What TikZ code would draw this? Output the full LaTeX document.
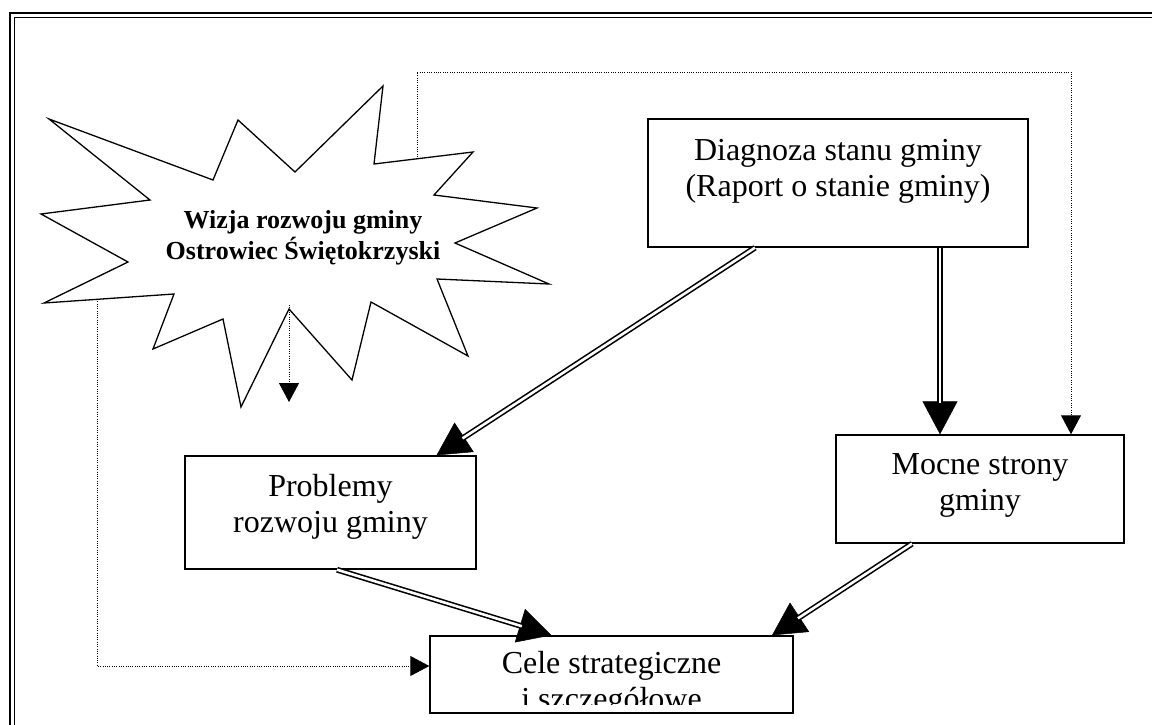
\documentclass[tikz,border=0pt]{standalone}
\usepackage{fontspec}
\setmainfont{Liberation Serif}
\usetikzlibrary{arrows.meta}

\tikzset{
  box/.style={draw, line width=1.4pt, inner sep=0pt},
  boxtext/.style={anchor=base, align=center, inner sep=0pt, font=\fontsize{32}{36}\selectfont},
  startext/.style={anchor=base, align=center, inner sep=0pt, font=\bfseries\fontsize{26}{31}\selectfont},
  dots/.style={line width=0.9pt, dash pattern=on 0.9pt off 1.4pt, -{Triangle[length=19pt,width=20pt]}},
  dblarrow/.style={preaction={draw, line width=0.5pt, shorten >=0pt, -{Triangle[length=33pt,width=35pt]}},
                   double, line width=1.6pt, double distance=2.6pt, shorten >=31pt}
}

\begin{document}
\begin{tikzpicture}[x=1pt, y=-1pt]
            \useasboundingbox (0,0) rectangle (1152,725);
            % Page frame
            \draw[line width=2.2pt] (10,725)   -- (10,13)   -- (1152,13);
            \draw[line width=1pt]   (14.5,725) -- (14.5,17.5) -- (1152,17.5);
            % Vision star
            \draw[line width=1.3pt] ( 49,119) -- (213,180) -- (238,120) -- (295,172) -- (383, 86) -- (374,164)
                                 -- (473,152) -- (434,195) -- (537,208) -- (455,243) -- (549,284) -- (437,279)
                                 -- (468,356) -- (371,302) -- (352,380) -- (289,309) -- (241,407) -- (223,319)
                                 -- (153,349) -- (174,294) -- ( 44,303) -- (128,262) -- ( 41,214) -- (150,200) -- cycle;
            \node[startext] (wizja) at (303,259) {Wizja rozwoju gminy\\Ostrowiec Świętokrzyski};
            \coordinate (w1)    at (417,159);
            \coordinate (w2)    at ( 97,299);
            \coordinate (w3)    at (289,305);
            \coordinate (w3end) at (289,402);
            % Boxes (text placed by its last baseline)
            \node[box, minimum width=380pt, minimum height=128pt] (diag)  at (838,183)     {};
            \node[boxtext] at (838,196)   {Diagnoza stanu gminy\\(Raport o stanie gminy)};
            \node[box, minimum width=291pt, minimum height=113pt] (probl) at (330.5,512.5) {};
            \node[boxtext] at (330.5,532) {Problemy\\rozwoju gminy};
            \node[box, minimum width=288pt, minimum height=108pt] (mocne) at (980,489)     {};
            \node[boxtext] at (980,510)   {Mocne strony\\gminy};
            \node[box, minimum width=363pt, minimum height=77pt]  (cele)  at (611.5,674.5) {};
            \begin{scope}
              \clip (430,636) rectangle (793,704);
              \node[boxtext] at (611.5,709) {Cele strategiczne\\i szczegółowe};
            \end{scope}
            % Double arrows
            \draw[dblarrow] ([xshift=-83pt]diag.south)  -- ([xshift=106pt]probl.north);
            \draw[dblarrow] ([xshift=102pt]diag.south)  -- ([xshift=-40pt]mocne.north);
            \draw[dblarrow] ([xshift=6.5pt]probl.south) -- ([xshift=-60pt]cele.north);
            \draw[dblarrow] ([xshift=-68pt]mocne.south) -- ([xshift=160.5pt]cele.north);
            % Dotted links from the vision
            \draw[dots] (w1) -- ++(0,-87) -| ([xshift=91pt]mocne.north);
            \draw[dots] (w2) |- ([yshift=8.5pt]cele.west);
            \draw[dots] (w3) -- (w3end);
        \end{tikzpicture}
\end{document}
